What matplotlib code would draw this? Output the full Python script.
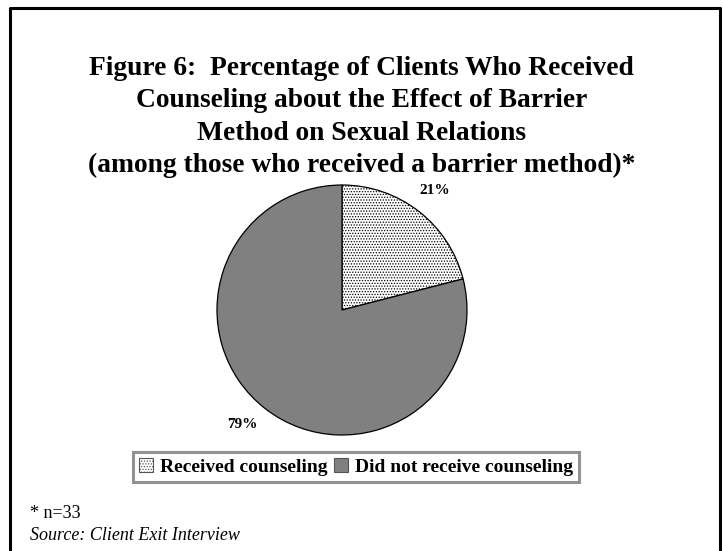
import matplotlib
matplotlib.use("Agg")
import matplotlib.pyplot as plt
from matplotlib.lines import Line2D
from matplotlib.patches import Patch

categories = ["Received counseling", "Did not receive counseling"]
values = [21, 79]
pct_labels = ["21%", "79%"]
title = ("Figure 6:  Percentage of Clients Who Received\n"
         "Counseling about the Effect of Barrier\n"
         "Method on Sexual Relations\n"
         "(among those who received a barrier method)*")
note = "* n=33"
source = "Source: Client Exit Interview"

W, H = 723, 551
fig = plt.figure(figsize=(W / 100, H / 100), dpi=100)
serif = ["Liberation Serif", "DejaVu Serif"]
plt.rcParams["hatch.linewidth"] = 0.6

# open frame around the page (left, top, right)
fx0, fx1, fy = 10 / W, 720 / W, 1 - 8 / H
fig.add_artist(Line2D([fx0, fx0, fx1, fx1], [0, fy, fy, 0],
                      transform=fig.transFigure, color="black", lw=2.2))

fig.text(0.5, 1 - 117 / H, title, ha="center", va="center",
         fontsize=19.8, fontweight="bold", family=serif, linespacing=1.38)

# pie
cx, cy, r = 342, 310, 125
ax = fig.add_axes([(cx - r) / W, 1 - (cy + r) / H, 2 * r / W, 2 * r / H])
wedges, _ = ax.pie(values, startangle=90, counterclock=False,
                   colors=["white", "#808080"],
                   wedgeprops=dict(edgecolor="black", linewidth=0.9))
wedges[0].set_hatch("......")
ax.set_aspect("equal")
ax.set_xlim(-1, 1)
ax.set_ylim(-1, 1)
ax.axis("off")

fig.text(435 / W, 1 - 190 / H, pct_labels[0], ha="center", va="center",
         fontsize=11, fontweight="bold", family=serif)
fig.text(242 / W, 1 - 425 / H, pct_labels[1], ha="center", va="center",
         fontsize=11, fontweight="bold", family=serif)

# legend
handles = [Patch(facecolor="white", edgecolor="#555555", hatch="......", lw=0.8),
           Patch(facecolor="#808080", edgecolor="#555555", lw=0.8)]
leg = fig.legend(handles, categories, loc="center", ncol=2,
                 bbox_to_anchor=(356 / W, 1 - 467 / H),
                 prop=dict(family=serif, weight="bold", size=14),
                 frameon=True, fancybox=False, handlelength=0.7,
                 handleheight=0.7, handletextpad=0.35, columnspacing=0.35,
                 borderpad=0.3)
leg.get_frame().set_edgecolor("#777777")
leg.get_frame().set_linewidth(2.2)

fig.text(30 / W, 1 - 513 / H, note, ha="left", va="center",
         fontsize=13, family=serif)
fig.text(30 / W, 1 - 536 / H, source, ha="left", va="center",
         fontsize=13, family=serif, style="italic")

fig.savefig("out.png", dpi=100, facecolor="white")
